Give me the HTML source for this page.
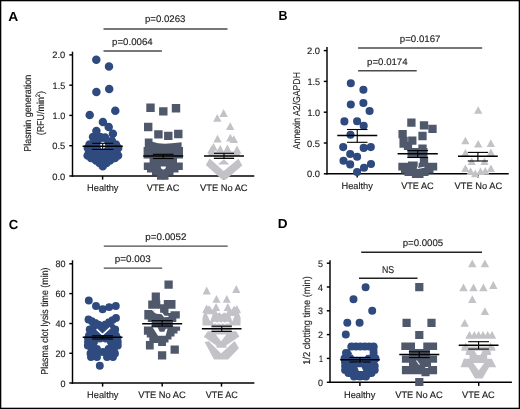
<!DOCTYPE html>
<html><head><meta charset="utf-8"><style>
html,body{margin:0;padding:0;background:#fff;width:520px;height:409px;overflow:hidden}
svg{display:block}
text{font-family:"Liberation Sans",sans-serif;text-rendering:geometricPrecision}
</style></head><body>
<svg style="will-change:transform" width="520" height="409" viewBox="0 0 520 409">
<rect width="520" height="409" fill="#fff"/>
<rect x="0.65" y="0.65" width="518.7" height="407.7" fill="none" stroke="#000" stroke-width="1.3"/>
<text x="8.3" y="21.4" font-size="13.2" text-anchor="start" font-weight="bold" fill="#000" textLength="10.0" lengthAdjust="spacingAndGlyphs">A</text>
<line x1="72.5" y1="51.7" x2="72.5" y2="176.725" stroke="#000" stroke-width="1.45"/>
<line x1="71.775" y1="176.0" x2="254.3" y2="176.0" stroke="#000" stroke-width="1.45"/>
<line x1="69.3" y1="54.9" x2="72.5" y2="54.9" stroke="#000" stroke-width="1.45"/>
<text x="65.2" y="58.449999999999996" font-size="9.4" text-anchor="end" font-weight="normal" fill="#1e1e1e" stroke="#1e1e1e" stroke-width="0.15" textLength="13.0" lengthAdjust="spacingAndGlyphs">2.0</text>
<line x1="69.3" y1="85.2" x2="72.5" y2="85.2" stroke="#000" stroke-width="1.45"/>
<text x="65.2" y="88.75" font-size="9.4" text-anchor="end" font-weight="normal" fill="#1e1e1e" stroke="#1e1e1e" stroke-width="0.15" textLength="12.6" lengthAdjust="spacingAndGlyphs">1.5</text>
<line x1="69.3" y1="115.4" x2="72.5" y2="115.4" stroke="#000" stroke-width="1.45"/>
<text x="65.2" y="118.95" font-size="9.4" text-anchor="end" font-weight="normal" fill="#1e1e1e" stroke="#1e1e1e" stroke-width="0.15" textLength="12.6" lengthAdjust="spacingAndGlyphs">1.0</text>
<line x1="69.3" y1="145.7" x2="72.5" y2="145.7" stroke="#000" stroke-width="1.45"/>
<text x="65.2" y="149.25" font-size="9.4" text-anchor="end" font-weight="normal" fill="#1e1e1e" stroke="#1e1e1e" stroke-width="0.15" textLength="13.0" lengthAdjust="spacingAndGlyphs">0.5</text>
<line x1="69.3" y1="176.0" x2="72.5" y2="176.0" stroke="#000" stroke-width="1.45"/>
<text x="65.2" y="179.55" font-size="9.4" text-anchor="end" font-weight="normal" fill="#1e1e1e" stroke="#1e1e1e" stroke-width="0.15" textLength="13.0" lengthAdjust="spacingAndGlyphs">0.0</text>
<line x1="102.6" y1="176.0" x2="102.6" y2="179.6" stroke="#000" stroke-width="1.45"/>
<line x1="163.0" y1="176.0" x2="163.0" y2="179.6" stroke="#000" stroke-width="1.45"/>
<line x1="223.8" y1="176.0" x2="223.8" y2="179.6" stroke="#000" stroke-width="1.45"/>
<line x1="103.5" y1="28.9" x2="227.5" y2="28.9" stroke="#4a4a4a" stroke-width="1.45"/>
<line x1="103.5" y1="50.9" x2="161.9" y2="50.9" stroke="#4a4a4a" stroke-width="1.45"/>
<text x="145.0" y="22.3" font-size="9.5" text-anchor="start" font-weight="normal" fill="#1e1e1e" stroke="#1e1e1e" stroke-width="0.15" textLength="40.4" lengthAdjust="spacingAndGlyphs">p=0.0263</text>
<text x="112.1" y="44.7" font-size="9.5" text-anchor="start" font-weight="normal" fill="#1e1e1e" stroke="#1e1e1e" stroke-width="0.15" textLength="40.6" lengthAdjust="spacingAndGlyphs">p=0.0064</text>
<text x="31.4" y="113.3" font-size="10.0" text-anchor="middle" font-weight="normal" fill="#1e1e1e" stroke="#1e1e1e" stroke-width="0.15" textLength="77" lengthAdjust="spacingAndGlyphs" transform="rotate(-90 31.4 113.3)">Plasmin generation</text>
<text x="44.0" y="113.1" font-size="10.0" text-anchor="middle" font-weight="normal" fill="#1e1e1e" stroke="#1e1e1e" stroke-width="0.15" textLength="44.4" lengthAdjust="spacingAndGlyphs" transform="rotate(-90 44.0 113.1)">(RFU/min<tspan font-size="6.5" dy="-3.6">2</tspan><tspan dy="3.6">)</tspan></text>
<path fill="#2e4a7e" d="M92.05,59.80a4.25,4.25 0 1,0 8.5,0a4.25,4.25 0 1,0 -8.5,0ZM104.75,66.40a4.25,4.25 0 1,0 8.5,0a4.25,4.25 0 1,0 -8.5,0ZM92.15,92.10a4.25,4.25 0 1,0 8.5,0a4.25,4.25 0 1,0 -8.5,0ZM104.95,88.90a4.25,4.25 0 1,0 8.5,0a4.25,4.25 0 1,0 -8.5,0ZM111.05,110.70a4.25,4.25 0 1,0 8.5,0a4.25,4.25 0 1,0 -8.5,0ZM85.45,115.00a4.25,4.25 0 1,0 8.5,0a4.25,4.25 0 1,0 -8.5,0ZM98.65,122.00a4.25,4.25 0 1,0 8.5,0a4.25,4.25 0 1,0 -8.5,0ZM104.45,127.00a4.25,4.25 0 1,0 8.5,0a4.25,4.25 0 1,0 -8.5,0ZM92.15,131.10a4.25,4.25 0 1,0 8.5,0a4.25,4.25 0 1,0 -8.5,0ZM108.65,133.70a4.25,4.25 0 1,0 8.5,0a4.25,4.25 0 1,0 -8.5,0ZM88.75,137.10a4.25,4.25 0 1,0 8.5,0a4.25,4.25 0 1,0 -8.5,0ZM96.05,137.10a4.25,4.25 0 1,0 8.5,0a4.25,4.25 0 1,0 -8.5,0ZM100.85,137.50a4.25,4.25 0 1,0 8.5,0a4.25,4.25 0 1,0 -8.5,0ZM107.75,141.00a4.25,4.25 0 1,0 8.5,0a4.25,4.25 0 1,0 -8.5,0ZM91.75,141.50a4.25,4.25 0 1,0 8.5,0a4.25,4.25 0 1,0 -8.5,0ZM103.75,141.50a4.25,4.25 0 1,0 8.5,0a4.25,4.25 0 1,0 -8.5,0ZM85.25,144.50a4.25,4.25 0 1,0 8.5,0a4.25,4.25 0 1,0 -8.5,0ZM91.88,144.50a4.25,4.25 0 1,0 8.5,0a4.25,4.25 0 1,0 -8.5,0ZM98.50,144.50a4.25,4.25 0 1,0 8.5,0a4.25,4.25 0 1,0 -8.5,0ZM105.12,144.50a4.25,4.25 0 1,0 8.5,0a4.25,4.25 0 1,0 -8.5,0ZM111.75,144.50a4.25,4.25 0 1,0 8.5,0a4.25,4.25 0 1,0 -8.5,0ZM83.55,148.00a4.25,4.25 0 1,0 8.5,0a4.25,4.25 0 1,0 -8.5,0ZM89.63,148.00a4.25,4.25 0 1,0 8.5,0a4.25,4.25 0 1,0 -8.5,0ZM95.71,148.00a4.25,4.25 0 1,0 8.5,0a4.25,4.25 0 1,0 -8.5,0ZM101.79,148.00a4.25,4.25 0 1,0 8.5,0a4.25,4.25 0 1,0 -8.5,0ZM107.87,148.00a4.25,4.25 0 1,0 8.5,0a4.25,4.25 0 1,0 -8.5,0ZM113.95,148.00a4.25,4.25 0 1,0 8.5,0a4.25,4.25 0 1,0 -8.5,0ZM84.75,152.00a4.25,4.25 0 1,0 8.5,0a4.25,4.25 0 1,0 -8.5,0ZM90.25,152.00a4.25,4.25 0 1,0 8.5,0a4.25,4.25 0 1,0 -8.5,0ZM95.75,152.00a4.25,4.25 0 1,0 8.5,0a4.25,4.25 0 1,0 -8.5,0ZM101.25,152.00a4.25,4.25 0 1,0 8.5,0a4.25,4.25 0 1,0 -8.5,0ZM106.75,152.00a4.25,4.25 0 1,0 8.5,0a4.25,4.25 0 1,0 -8.5,0ZM112.25,152.00a4.25,4.25 0 1,0 8.5,0a4.25,4.25 0 1,0 -8.5,0ZM83.35,155.50a4.25,4.25 0 1,0 8.5,0a4.25,4.25 0 1,0 -8.5,0ZM89.45,155.50a4.25,4.25 0 1,0 8.5,0a4.25,4.25 0 1,0 -8.5,0ZM95.55,155.50a4.25,4.25 0 1,0 8.5,0a4.25,4.25 0 1,0 -8.5,0ZM101.65,155.50a4.25,4.25 0 1,0 8.5,0a4.25,4.25 0 1,0 -8.5,0ZM107.75,155.50a4.25,4.25 0 1,0 8.5,0a4.25,4.25 0 1,0 -8.5,0ZM113.85,155.50a4.25,4.25 0 1,0 8.5,0a4.25,4.25 0 1,0 -8.5,0ZM86.75,158.00a4.25,4.25 0 1,0 8.5,0a4.25,4.25 0 1,0 -8.5,0ZM92.75,158.00a4.25,4.25 0 1,0 8.5,0a4.25,4.25 0 1,0 -8.5,0ZM98.75,158.00a4.25,4.25 0 1,0 8.5,0a4.25,4.25 0 1,0 -8.5,0ZM104.75,158.00a4.25,4.25 0 1,0 8.5,0a4.25,4.25 0 1,0 -8.5,0ZM110.75,158.00a4.25,4.25 0 1,0 8.5,0a4.25,4.25 0 1,0 -8.5,0ZM91.75,160.50a4.25,4.25 0 1,0 8.5,0a4.25,4.25 0 1,0 -8.5,0ZM98.75,160.50a4.25,4.25 0 1,0 8.5,0a4.25,4.25 0 1,0 -8.5,0ZM105.75,160.50a4.25,4.25 0 1,0 8.5,0a4.25,4.25 0 1,0 -8.5,0ZM95.25,163.00a4.25,4.25 0 1,0 8.5,0a4.25,4.25 0 1,0 -8.5,0ZM102.25,163.00a4.25,4.25 0 1,0 8.5,0a4.25,4.25 0 1,0 -8.5,0ZM98.55,166.30a4.25,4.25 0 1,0 8.5,0a4.25,4.25 0 1,0 -8.5,0Z"/>
<ellipse cx="102.7" cy="145.3" rx="2.4" ry="3.6" fill="#fff"/>
<path fill="#50586b" d="M146.30,103.60h8.4v8.4h-8.4ZM159.10,107.20h8.4v8.4h-8.4ZM171.80,104.10h8.4v8.4h-8.4ZM144.00,122.80h8.4v8.4h-8.4ZM154.20,130.20h8.4v8.4h-8.4ZM164.10,131.70h8.4v8.4h-8.4ZM174.10,129.80h8.4v8.4h-8.4ZM144.80,138.50L152.50,138.50L152.50,141.80L158.00,143.20L165.00,143.80L172.00,143.20L181.60,142.30L181.60,147.00L183.00,147.00L183.00,158.50L177.00,158.50L177.00,162.50L182.80,162.50L182.80,170.00L178.50,170.00L178.50,172.50L173.50,172.50L173.50,175.00L168.50,175.00L168.50,179.80L157.00,179.80L157.00,175.00L152.00,175.00L152.00,172.50L147.00,172.50L147.00,170.00L143.80,170.00L143.80,162.50L149.60,162.50L149.60,158.50L143.60,158.50L143.60,147.00L144.80,147.00Z"/>
<path fill="#fff" d="M160.7,166.4L166,166.4Q165.6,169.5 163.3,169.4Q161,169.5 160.7,166.4Z"/>
<path fill="#c3c2c7" d="M223.60,109.10L227.80,116.90H219.40ZM217.30,113.90L221.50,121.70H213.10ZM230.20,122.30L234.40,130.10H226.00ZM217.50,134.80L221.70,142.60H213.30ZM230.30,133.80L234.50,141.60H226.10ZM233.80,135.30L238.00,143.10H229.60ZM213.50,143.00L217.70,150.80H209.30ZM220.20,144.90L224.40,152.70H216.00ZM227.40,144.40L231.60,152.20H223.20ZM237.00,145.40L241.20,153.20H232.80ZM211.40,145.80L215.60,153.60H207.20ZM237.30,146.00L241.50,153.80H233.10ZM208.50,151.50H239.80V156.00H208.50ZM213.80,155.00H234.20V158.40H213.80ZM209.60,158.40L223.60,170.90L238.50,158.80L242.30,165.60L226.00,179.50L222.00,179.50L205.80,165.10ZM224.00,159.30L229.30,164.60L217.80,164.60Z"/>
<line x1="82.6" y1="146.2" x2="122.80000000000001" y2="146.2" stroke="#000" stroke-width="1.5"/>
<line x1="92.10000000000001" y1="143.3" x2="113.3" y2="143.3" stroke="#000" stroke-width="1.1"/>
<line x1="92.10000000000001" y1="149.4" x2="113.3" y2="149.4" stroke="#000" stroke-width="1.1"/>
<line x1="102.7" y1="143.3" x2="102.7" y2="149.4" stroke="#000" stroke-width="1.1"/>
<line x1="143.2" y1="155.9" x2="183.2" y2="155.9" stroke="#000" stroke-width="1.5"/>
<line x1="152.89999999999998" y1="154.3" x2="173.5" y2="154.3" stroke="#000" stroke-width="1.1"/>
<line x1="152.89999999999998" y1="158.5" x2="173.5" y2="158.5" stroke="#000" stroke-width="1.1"/>
<line x1="163.2" y1="154.3" x2="163.2" y2="158.5" stroke="#000" stroke-width="1.1"/>
<line x1="204.0" y1="156.0" x2="244.0" y2="156.0" stroke="#000" stroke-width="1.5"/>
<line x1="213.9" y1="153.3" x2="234.1" y2="153.3" stroke="#000" stroke-width="1.1"/>
<line x1="213.9" y1="158.4" x2="234.1" y2="158.4" stroke="#000" stroke-width="1.1"/>
<line x1="224.0" y1="153.3" x2="224.0" y2="158.4" stroke="#000" stroke-width="1.1"/>
<text x="87.1" y="191.2" font-size="9.3" text-anchor="start" font-weight="normal" fill="#1e1e1e" stroke="#1e1e1e" stroke-width="0.15" textLength="31.4" lengthAdjust="spacingAndGlyphs">Healthy</text>
<text x="146.8" y="191.2" font-size="9.3" text-anchor="start" font-weight="normal" fill="#1e1e1e" stroke="#1e1e1e" stroke-width="0.15" textLength="32.5" lengthAdjust="spacingAndGlyphs">VTE AC</text>
<text x="200.0" y="191.2" font-size="9.3" text-anchor="start" font-weight="normal" fill="#1e1e1e" stroke="#1e1e1e" stroke-width="0.15" textLength="47.6" lengthAdjust="spacingAndGlyphs">VTE No AC</text>
<text x="278.5" y="20.2" font-size="13.2" text-anchor="start" font-weight="bold" fill="#000" textLength="9.0" lengthAdjust="spacingAndGlyphs">B</text>
<line x1="327.0" y1="47.0" x2="327.0" y2="174.525" stroke="#000" stroke-width="1.45"/>
<line x1="326.275" y1="173.8" x2="508.7" y2="173.8" stroke="#000" stroke-width="1.45"/>
<line x1="323.8" y1="50.6" x2="327.0" y2="50.6" stroke="#000" stroke-width="1.45"/>
<text x="320.0" y="54.15" font-size="9.4" text-anchor="end" font-weight="normal" fill="#1e1e1e" stroke="#1e1e1e" stroke-width="0.15" textLength="13.0" lengthAdjust="spacingAndGlyphs">2.0</text>
<line x1="323.8" y1="81.4" x2="327.0" y2="81.4" stroke="#000" stroke-width="1.45"/>
<text x="320.0" y="84.95" font-size="9.4" text-anchor="end" font-weight="normal" fill="#1e1e1e" stroke="#1e1e1e" stroke-width="0.15" textLength="12.6" lengthAdjust="spacingAndGlyphs">1.5</text>
<line x1="323.8" y1="112.2" x2="327.0" y2="112.2" stroke="#000" stroke-width="1.45"/>
<text x="320.0" y="115.75" font-size="9.4" text-anchor="end" font-weight="normal" fill="#1e1e1e" stroke="#1e1e1e" stroke-width="0.15" textLength="12.6" lengthAdjust="spacingAndGlyphs">1.0</text>
<line x1="323.8" y1="143.0" x2="327.0" y2="143.0" stroke="#000" stroke-width="1.45"/>
<text x="320.0" y="146.55" font-size="9.4" text-anchor="end" font-weight="normal" fill="#1e1e1e" stroke="#1e1e1e" stroke-width="0.15" textLength="13.0" lengthAdjust="spacingAndGlyphs">0.5</text>
<line x1="323.8" y1="173.8" x2="327.0" y2="173.8" stroke="#000" stroke-width="1.45"/>
<text x="320.0" y="177.35000000000002" font-size="9.4" text-anchor="end" font-weight="normal" fill="#1e1e1e" stroke="#1e1e1e" stroke-width="0.15" textLength="13.0" lengthAdjust="spacingAndGlyphs">0.0</text>
<line x1="357.2" y1="173.8" x2="357.2" y2="177.4" stroke="#000" stroke-width="1.45"/>
<line x1="417.6" y1="173.8" x2="417.6" y2="177.4" stroke="#000" stroke-width="1.45"/>
<line x1="478.1" y1="173.8" x2="478.1" y2="177.4" stroke="#000" stroke-width="1.45"/>
<line x1="358.1" y1="48.0" x2="482.2" y2="48.0" stroke="#4a4a4a" stroke-width="1.45"/>
<line x1="358.1" y1="70.8" x2="416.7" y2="70.8" stroke="#4a4a4a" stroke-width="1.45"/>
<text x="399.8" y="41.8" font-size="9.5" text-anchor="start" font-weight="normal" fill="#1e1e1e" stroke="#1e1e1e" stroke-width="0.15" textLength="40.6" lengthAdjust="spacingAndGlyphs">p=0.0167</text>
<text x="367.1" y="65.4" font-size="9.5" text-anchor="start" font-weight="normal" fill="#1e1e1e" stroke="#1e1e1e" stroke-width="0.15" textLength="40.5" lengthAdjust="spacingAndGlyphs">p=0.0174</text>
<text x="299.7" y="110.65" font-size="10.0" text-anchor="middle" font-weight="normal" fill="#1e1e1e" stroke="#1e1e1e" stroke-width="0.15" textLength="77.1" lengthAdjust="spacingAndGlyphs" transform="rotate(-90 299.7 110.65)">Annexin A2/GAPDH</text>
<path fill="#2e4a7e" d="M346.75,83.20a4.05,4.05 0 1,0 8.1,0a4.05,4.05 0 1,0 -8.1,0ZM359.35,89.80a4.05,4.05 0 1,0 8.1,0a4.05,4.05 0 1,0 -8.1,0ZM346.75,104.50a4.05,4.05 0 1,0 8.1,0a4.05,4.05 0 1,0 -8.1,0ZM359.35,103.00a4.05,4.05 0 1,0 8.1,0a4.05,4.05 0 1,0 -8.1,0ZM365.55,111.00a4.05,4.05 0 1,0 8.1,0a4.05,4.05 0 1,0 -8.1,0ZM340.35,121.40a4.05,4.05 0 1,0 8.1,0a4.05,4.05 0 1,0 -8.1,0ZM353.05,121.30a4.05,4.05 0 1,0 8.1,0a4.05,4.05 0 1,0 -8.1,0ZM359.65,125.70a4.05,4.05 0 1,0 8.1,0a4.05,4.05 0 1,0 -8.1,0ZM346.45,134.70a4.05,4.05 0 1,0 8.1,0a4.05,4.05 0 1,0 -8.1,0ZM339.15,147.10a4.05,4.05 0 1,0 8.1,0a4.05,4.05 0 1,0 -8.1,0ZM359.65,147.90a4.05,4.05 0 1,0 8.1,0a4.05,4.05 0 1,0 -8.1,0ZM366.75,147.10a4.05,4.05 0 1,0 8.1,0a4.05,4.05 0 1,0 -8.1,0ZM346.15,154.00a4.05,4.05 0 1,0 8.1,0a4.05,4.05 0 1,0 -8.1,0ZM353.05,156.70a4.05,4.05 0 1,0 8.1,0a4.05,4.05 0 1,0 -8.1,0ZM339.45,160.80a4.05,4.05 0 1,0 8.1,0a4.05,4.05 0 1,0 -8.1,0ZM346.15,164.40a4.05,4.05 0 1,0 8.1,0a4.05,4.05 0 1,0 -8.1,0ZM359.95,167.70a4.05,4.05 0 1,0 8.1,0a4.05,4.05 0 1,0 -8.1,0ZM366.95,164.00a4.05,4.05 0 1,0 8.1,0a4.05,4.05 0 1,0 -8.1,0ZM353.05,172.00a4.05,4.05 0 1,0 8.1,0a4.05,4.05 0 1,0 -8.1,0Z"/>
<path fill="#50586b" d="M407.25,118.45h8.3v8.3h-8.3ZM419.85,121.15h8.3v8.3h-8.3ZM428.35,124.75h8.3v8.3h-8.3ZM418.35,131.85h8.3v8.3h-8.3ZM398.45,130.05h8.3v8.3h-8.3ZM408.15,136.45h8.3v8.3h-8.3ZM399.45,136.85h8.3v8.3h-8.3ZM403.85,141.65h8.3v8.3h-8.3ZM418.35,144.55h8.3v8.3h-8.3ZM419.85,157.45h8.3v8.3h-8.3ZM399.45,139.35h8.3v8.3h-8.3ZM407.50,148.00H427.50V157.50H407.50ZM398.30,162.70L408.00,162.70L408.00,161.40L418.00,161.40L418.00,162.70L437.20,162.70L437.20,170.50L433.50,170.50L433.50,173.50L428.50,173.50L428.50,176.00L423.50,176.00L423.50,177.90L411.90,177.90L411.90,176.00L404.50,176.00L404.50,173.50L401.00,173.50L401.00,170.50L398.30,170.50Z"/>
<polyline points="418.2,157.8 418.2,165.5 417.2,168.6 424.5,167.2" fill="none" stroke="#fff" stroke-width="1.0"/>
<path fill="#c3c2c7" d="M478.20,106.20L482.35,113.80H474.05ZM465.40,136.70L469.55,144.30H461.25ZM478.20,139.90L482.35,147.50H474.05ZM490.80,139.30L494.95,146.90H486.65ZM465.40,148.90L469.55,156.50H461.25ZM490.90,148.50L495.05,156.10H486.75ZM471.70,157.50L475.85,165.10H467.55ZM484.50,157.50L488.65,165.10H480.35ZM465.40,164.40L469.55,172.00H461.25ZM490.90,164.40L495.05,172.00H486.75ZM470.60,167.30L474.75,174.90H466.45ZM475.30,169.60L479.45,177.20H471.15ZM480.50,167.30L484.65,174.90H476.35ZM485.30,167.00L489.45,174.60H481.15Z"/>
<line x1="337.25" y1="135.4" x2="377.25" y2="135.4" stroke="#000" stroke-width="1.5"/>
<line x1="347.0" y1="129.5" x2="367.5" y2="129.5" stroke="#000" stroke-width="1.1"/>
<line x1="347.0" y1="142.3" x2="367.5" y2="142.3" stroke="#000" stroke-width="1.1"/>
<line x1="357.25" y1="129.5" x2="357.25" y2="142.3" stroke="#000" stroke-width="1.1"/>
<line x1="397.59999999999997" y1="153.7" x2="437.8" y2="153.7" stroke="#000" stroke-width="1.5"/>
<line x1="407.3" y1="150.6" x2="428.09999999999997" y2="150.6" stroke="#000" stroke-width="1.1"/>
<line x1="407.3" y1="157.5" x2="428.09999999999997" y2="157.5" stroke="#000" stroke-width="1.1"/>
<line x1="417.7" y1="150.6" x2="417.7" y2="157.5" stroke="#000" stroke-width="1.1"/>
<line x1="458.0" y1="156.2" x2="497.79999999999995" y2="156.2" stroke="#000" stroke-width="1.5"/>
<line x1="467.75" y1="152.4" x2="488.04999999999995" y2="152.4" stroke="#000" stroke-width="1.1"/>
<line x1="467.75" y1="161.0" x2="488.04999999999995" y2="161.0" stroke="#000" stroke-width="1.1"/>
<line x1="477.9" y1="152.4" x2="477.9" y2="161.0" stroke="#000" stroke-width="1.1"/>
<text x="341.5" y="188.8" font-size="9.3" text-anchor="start" font-weight="normal" fill="#1e1e1e" stroke="#1e1e1e" stroke-width="0.15" textLength="31.4" lengthAdjust="spacingAndGlyphs">Healthy</text>
<text x="401.2" y="188.8" font-size="9.3" text-anchor="start" font-weight="normal" fill="#1e1e1e" stroke="#1e1e1e" stroke-width="0.15" textLength="32.5" lengthAdjust="spacingAndGlyphs">VTE AC</text>
<text x="454.6" y="188.8" font-size="9.3" text-anchor="start" font-weight="normal" fill="#1e1e1e" stroke="#1e1e1e" stroke-width="0.15" textLength="47.6" lengthAdjust="spacingAndGlyphs">VTE No AC</text>
<text x="8.7" y="229.2" font-size="13.2" text-anchor="start" font-weight="bold" fill="#000" textLength="9.5" lengthAdjust="spacingAndGlyphs">C</text>
<line x1="72.5" y1="260.3" x2="72.5" y2="383.725" stroke="#000" stroke-width="1.45"/>
<line x1="71.775" y1="383.0" x2="254.4" y2="383.0" stroke="#000" stroke-width="1.45"/>
<line x1="69.3" y1="263.8" x2="72.5" y2="263.8" stroke="#000" stroke-width="1.45"/>
<text x="65.6" y="267.35" font-size="9.4" text-anchor="end" font-weight="normal" fill="#1e1e1e" stroke="#1e1e1e" stroke-width="0.15" textLength="10.0" lengthAdjust="spacingAndGlyphs">80</text>
<line x1="69.3" y1="293.6" x2="72.5" y2="293.6" stroke="#000" stroke-width="1.45"/>
<text x="65.6" y="297.15000000000003" font-size="9.4" text-anchor="end" font-weight="normal" fill="#1e1e1e" stroke="#1e1e1e" stroke-width="0.15" textLength="10.0" lengthAdjust="spacingAndGlyphs">60</text>
<line x1="69.3" y1="323.5" x2="72.5" y2="323.5" stroke="#000" stroke-width="1.45"/>
<text x="65.6" y="327.05" font-size="9.4" text-anchor="end" font-weight="normal" fill="#1e1e1e" stroke="#1e1e1e" stroke-width="0.15" textLength="10.0" lengthAdjust="spacingAndGlyphs">40</text>
<line x1="69.3" y1="353.3" x2="72.5" y2="353.3" stroke="#000" stroke-width="1.45"/>
<text x="65.6" y="356.85" font-size="9.4" text-anchor="end" font-weight="normal" fill="#1e1e1e" stroke="#1e1e1e" stroke-width="0.15" textLength="10.0" lengthAdjust="spacingAndGlyphs">20</text>
<line x1="69.3" y1="383.0" x2="72.5" y2="383.0" stroke="#000" stroke-width="1.45"/>
<text x="65.6" y="386.55" font-size="9.4" text-anchor="end" font-weight="normal" fill="#1e1e1e" stroke="#1e1e1e" stroke-width="0.15" textLength="5.0" lengthAdjust="spacingAndGlyphs">0</text>
<line x1="102.6" y1="383.0" x2="102.6" y2="386.6" stroke="#000" stroke-width="1.45"/>
<line x1="162.2" y1="383.0" x2="162.2" y2="386.6" stroke="#000" stroke-width="1.45"/>
<line x1="221.5" y1="383.0" x2="221.5" y2="386.6" stroke="#000" stroke-width="1.45"/>
<line x1="103.8" y1="246.1" x2="227.7" y2="246.1" stroke="#4a4a4a" stroke-width="1.45"/>
<line x1="103.8" y1="268.1" x2="162.2" y2="268.1" stroke="#4a4a4a" stroke-width="1.45"/>
<text x="145.3" y="239.6" font-size="9.5" text-anchor="start" font-weight="normal" fill="#1e1e1e" stroke="#1e1e1e" stroke-width="0.15" textLength="41.2" lengthAdjust="spacingAndGlyphs">p=0.0052</text>
<text x="114.7" y="261.8" font-size="9.5" text-anchor="start" font-weight="normal" fill="#1e1e1e" stroke="#1e1e1e" stroke-width="0.15" textLength="36.0" lengthAdjust="spacingAndGlyphs">p=0.003</text>
<text x="47.9" y="321.1" font-size="10.0" text-anchor="middle" font-weight="normal" fill="#1e1e1e" stroke="#1e1e1e" stroke-width="0.15" textLength="107.2" lengthAdjust="spacingAndGlyphs" transform="rotate(-90 47.9 321.1)">Plasma clot lysis time (min)</text>
<path fill="#2e4a7e" d="M84.85,300.50a3.95,3.95 0 1,0 7.9,0a3.95,3.95 0 1,0 -7.9,0ZM92.05,306.00a3.95,3.95 0 1,0 7.9,0a3.95,3.95 0 1,0 -7.9,0ZM98.65,309.30a3.95,3.95 0 1,0 7.9,0a3.95,3.95 0 1,0 -7.9,0ZM105.25,307.10a3.95,3.95 0 1,0 7.9,0a3.95,3.95 0 1,0 -7.9,0ZM111.85,306.00a3.95,3.95 0 1,0 7.9,0a3.95,3.95 0 1,0 -7.9,0ZM95.85,365.80a3.95,3.95 0 1,0 7.9,0a3.95,3.95 0 1,0 -7.9,0ZM84.55,319.50a3.95,3.95 0 1,0 7.9,0a3.95,3.95 0 1,0 -7.9,0ZM87.95,321.25a3.95,3.95 0 1,0 7.9,0a3.95,3.95 0 1,0 -7.9,0ZM91.25,323.00a3.95,3.95 0 1,0 7.9,0a3.95,3.95 0 1,0 -7.9,0ZM94.65,324.75a3.95,3.95 0 1,0 7.9,0a3.95,3.95 0 1,0 -7.9,0ZM98.05,326.50a3.95,3.95 0 1,0 7.9,0a3.95,3.95 0 1,0 -7.9,0ZM101.55,324.40a3.95,3.95 0 1,0 7.9,0a3.95,3.95 0 1,0 -7.9,0ZM105.05,322.25a3.95,3.95 0 1,0 7.9,0a3.95,3.95 0 1,0 -7.9,0ZM108.55,320.10a3.95,3.95 0 1,0 7.9,0a3.95,3.95 0 1,0 -7.9,0ZM112.05,318.00a3.95,3.95 0 1,0 7.9,0a3.95,3.95 0 1,0 -7.9,0ZM85.75,329.50a3.95,3.95 0 1,0 7.9,0a3.95,3.95 0 1,0 -7.9,0ZM88.55,331.50a3.95,3.95 0 1,0 7.9,0a3.95,3.95 0 1,0 -7.9,0ZM92.05,333.50a3.95,3.95 0 1,0 7.9,0a3.95,3.95 0 1,0 -7.9,0ZM111.25,329.40a3.95,3.95 0 1,0 7.9,0a3.95,3.95 0 1,0 -7.9,0ZM108.05,331.40a3.95,3.95 0 1,0 7.9,0a3.95,3.95 0 1,0 -7.9,0ZM104.55,333.20a3.95,3.95 0 1,0 7.9,0a3.95,3.95 0 1,0 -7.9,0ZM98.35,331.50a3.95,3.95 0 1,0 7.9,0a3.95,3.95 0 1,0 -7.9,0ZM89.55,327.50a3.95,3.95 0 1,0 7.9,0a3.95,3.95 0 1,0 -7.9,0ZM92.05,329.00a3.95,3.95 0 1,0 7.9,0a3.95,3.95 0 1,0 -7.9,0ZM107.55,327.50a3.95,3.95 0 1,0 7.9,0a3.95,3.95 0 1,0 -7.9,0ZM104.75,329.00a3.95,3.95 0 1,0 7.9,0a3.95,3.95 0 1,0 -7.9,0ZM85.05,335.50a3.95,3.95 0 1,0 7.9,0a3.95,3.95 0 1,0 -7.9,0ZM90.45,335.50a3.95,3.95 0 1,0 7.9,0a3.95,3.95 0 1,0 -7.9,0ZM95.85,335.50a3.95,3.95 0 1,0 7.9,0a3.95,3.95 0 1,0 -7.9,0ZM101.25,335.50a3.95,3.95 0 1,0 7.9,0a3.95,3.95 0 1,0 -7.9,0ZM106.65,335.50a3.95,3.95 0 1,0 7.9,0a3.95,3.95 0 1,0 -7.9,0ZM112.05,335.50a3.95,3.95 0 1,0 7.9,0a3.95,3.95 0 1,0 -7.9,0ZM84.05,338.50a3.95,3.95 0 1,0 7.9,0a3.95,3.95 0 1,0 -7.9,0ZM89.95,338.50a3.95,3.95 0 1,0 7.9,0a3.95,3.95 0 1,0 -7.9,0ZM95.85,338.50a3.95,3.95 0 1,0 7.9,0a3.95,3.95 0 1,0 -7.9,0ZM101.75,338.50a3.95,3.95 0 1,0 7.9,0a3.95,3.95 0 1,0 -7.9,0ZM107.65,338.50a3.95,3.95 0 1,0 7.9,0a3.95,3.95 0 1,0 -7.9,0ZM113.55,338.50a3.95,3.95 0 1,0 7.9,0a3.95,3.95 0 1,0 -7.9,0ZM84.05,342.00a3.95,3.95 0 1,0 7.9,0a3.95,3.95 0 1,0 -7.9,0ZM90.05,342.00a3.95,3.95 0 1,0 7.9,0a3.95,3.95 0 1,0 -7.9,0ZM107.05,342.00a3.95,3.95 0 1,0 7.9,0a3.95,3.95 0 1,0 -7.9,0ZM113.85,342.00a3.95,3.95 0 1,0 7.9,0a3.95,3.95 0 1,0 -7.9,0ZM83.85,345.50a3.95,3.95 0 1,0 7.9,0a3.95,3.95 0 1,0 -7.9,0ZM89.55,345.50a3.95,3.95 0 1,0 7.9,0a3.95,3.95 0 1,0 -7.9,0ZM107.55,345.50a3.95,3.95 0 1,0 7.9,0a3.95,3.95 0 1,0 -7.9,0ZM113.85,345.50a3.95,3.95 0 1,0 7.9,0a3.95,3.95 0 1,0 -7.9,0ZM87.55,349.00a3.95,3.95 0 1,0 7.9,0a3.95,3.95 0 1,0 -7.9,0ZM93.05,349.00a3.95,3.95 0 1,0 7.9,0a3.95,3.95 0 1,0 -7.9,0ZM104.55,349.00a3.95,3.95 0 1,0 7.9,0a3.95,3.95 0 1,0 -7.9,0ZM110.05,349.00a3.95,3.95 0 1,0 7.9,0a3.95,3.95 0 1,0 -7.9,0ZM99.05,352.00a3.95,3.95 0 1,0 7.9,0a3.95,3.95 0 1,0 -7.9,0ZM86.55,353.50a3.95,3.95 0 1,0 7.9,0a3.95,3.95 0 1,0 -7.9,0ZM92.55,353.50a3.95,3.95 0 1,0 7.9,0a3.95,3.95 0 1,0 -7.9,0ZM105.55,353.50a3.95,3.95 0 1,0 7.9,0a3.95,3.95 0 1,0 -7.9,0ZM111.05,353.50a3.95,3.95 0 1,0 7.9,0a3.95,3.95 0 1,0 -7.9,0ZM87.05,357.00a3.95,3.95 0 1,0 7.9,0a3.95,3.95 0 1,0 -7.9,0ZM93.05,357.00a3.95,3.95 0 1,0 7.9,0a3.95,3.95 0 1,0 -7.9,0ZM103.05,357.00a3.95,3.95 0 1,0 7.9,0a3.95,3.95 0 1,0 -7.9,0ZM109.05,357.00a3.95,3.95 0 1,0 7.9,0a3.95,3.95 0 1,0 -7.9,0Z"/>
<polyline points="96.6,329.2 102.5,334.6 110.2,327.6" fill="none" stroke="#fff" stroke-width="1.7" stroke-linejoin="round"/>
<path fill="#fff" d="M99.6,342.8Q102.8,344.2 106.2,342.8L104.5,347.4Q102.8,348.2 101.2,347.4Z"/>
<path fill="#50586b" d="M164.45,280.55h8.3v8.3h-8.3ZM170.55,345.45h8.3v8.3h-8.3ZM157.95,351.25h8.3v8.3h-8.3ZM151.70,292.60H159.90V300.60H151.70ZM148.20,300.40H160.30V308.80H148.20ZM163.80,300.00H175.50V308.80H163.80ZM160.10,304.30H168.50V313.40H160.10ZM144.30,309.90H154.50V319.40H144.30ZM170.50,311.20H179.80V318.50H170.50ZM147.80,316.80H176.30V322.00H147.80ZM154.30,313.00H170.70V318.00H154.30ZM151.70,320.50H172.90V326.50H151.70ZM143.90,326.40L180.10,326.40L180.10,330.80L177.50,330.80L177.50,333.50L174.50,333.50L174.50,336.50L171.50,336.50L171.50,339.50L168.50,339.50L168.50,342.50L166.00,342.50L166.00,345.90L158.10,345.90L158.10,343.00L153.70,343.00L153.70,349.40L145.90,349.40L145.90,341.00L149.30,341.00L149.30,337.60L146.80,337.60L146.80,334.70L143.90,334.70Z"/>
<path fill="#fff" d="M152.7,327.6L157.6,327.6L159.8,331.8L164.2,331.8L165.8,328.8L167.6,328.8L165.6,335.7L158,335.7Z"/>
<polyline points="152.5,309.8 156.5,313.2 162,313.5 164.3,316.5 168.5,316.3" fill="none" stroke="#fff" stroke-width="1.3"/>
<path fill="#c3c2c7" d="M206.70,286.60L210.80,294.40H202.60ZM236.30,285.10L240.40,292.90H232.20ZM216.50,295.00L220.60,302.80H212.40ZM226.80,295.00L230.90,302.80H222.70ZM202.50,312.60L206.60,304.50L207.90,306.80L209.30,305.40L212.40,310.00L216.10,303.10L220.20,311.00L223.70,311.00L227.80,303.10L231.50,310.00L234.20,305.80L235.50,307.50L236.90,305.00L240.80,312.60L240.50,325.50L202.50,325.50ZM211.40,324.00H231.70V331.40H211.40ZM207.90,331.20L236.10,331.20L239.40,336.40L226.40,345.20L226.40,347.80L216.70,347.80L216.30,345.60L203.80,336.80ZM204.60,342.10L208.80,341.20L221.10,353.50L234.30,341.20L235.40,342.10L238.90,348.20L228.00,359.60L214.00,359.60Z"/>
<path fill="#fff" d="M215.8,334.6L226.4,334.6L221.1,341.2Z"/>
<path fill="#fff" d="M216.5,311L227.5,311L226.5,313.6L224,312.6L221.8,314.4L219.4,312.6L217.3,313.6Z"/>
<path fill="#fff" d="M206.8,314.2L212.7,314.2L210.3,321.4Z"/>
<path fill="#fff" d="M230.3,316L234.4,316L232.4,321.4Z"/>
<polyline points="213,323.2 215,322.4 217,323.6 219,322.4 221,323.6 223,322.4 225,323.6 227,322.4 229.4,323.2" fill="none" stroke="#fff" stroke-width="1.6"/>
<path fill="#fff" d="M202,313L204.2,313.2L202,318Z"/>
<path fill="#fff" d="M241,313L238.8,313.2L241,318Z"/>
<line x1="82.69999999999999" y1="337.2" x2="122.5" y2="337.2" stroke="#000" stroke-width="1.5"/>
<line x1="92.14999999999999" y1="335.8" x2="113.05" y2="335.8" stroke="#000" stroke-width="1.1"/>
<line x1="92.14999999999999" y1="339.0" x2="113.05" y2="339.0" stroke="#000" stroke-width="1.1"/>
<line x1="102.6" y1="335.8" x2="102.6" y2="339.0" stroke="#000" stroke-width="1.1"/>
<line x1="142.15" y1="323.8" x2="182.15" y2="323.8" stroke="#000" stroke-width="1.5"/>
<line x1="151.55" y1="320.7" x2="172.75" y2="320.7" stroke="#000" stroke-width="1.1"/>
<line x1="151.55" y1="326.1" x2="172.75" y2="326.1" stroke="#000" stroke-width="1.1"/>
<line x1="162.15" y1="320.7" x2="162.15" y2="326.1" stroke="#000" stroke-width="1.1"/>
<line x1="201.89999999999998" y1="328.7" x2="241.5" y2="328.7" stroke="#000" stroke-width="1.5"/>
<line x1="211.54999999999998" y1="326.2" x2="231.85" y2="326.2" stroke="#000" stroke-width="1.1"/>
<line x1="211.54999999999998" y1="331.4" x2="231.85" y2="331.4" stroke="#000" stroke-width="1.1"/>
<line x1="221.7" y1="326.2" x2="221.7" y2="331.4" stroke="#000" stroke-width="1.1"/>
<text x="87.1" y="398.4" font-size="9.3" text-anchor="start" font-weight="normal" fill="#1e1e1e" stroke="#1e1e1e" stroke-width="0.15" textLength="31.4" lengthAdjust="spacingAndGlyphs">Healthy</text>
<text x="138.2" y="398.4" font-size="9.3" text-anchor="start" font-weight="normal" fill="#1e1e1e" stroke="#1e1e1e" stroke-width="0.15" textLength="47.6" lengthAdjust="spacingAndGlyphs">VTE No AC</text>
<text x="205.7" y="398.4" font-size="9.3" text-anchor="start" font-weight="normal" fill="#1e1e1e" stroke="#1e1e1e" stroke-width="0.15" textLength="32.0" lengthAdjust="spacingAndGlyphs">VTE AC</text>
<text x="277.8" y="228.3" font-size="13.2" text-anchor="start" font-weight="bold" fill="#000" textLength="9.8" lengthAdjust="spacingAndGlyphs">D</text>
<line x1="330.0" y1="260.3" x2="330.0" y2="383.02500000000003" stroke="#000" stroke-width="1.45"/>
<line x1="329.275" y1="382.3" x2="511.9" y2="382.3" stroke="#000" stroke-width="1.45"/>
<line x1="326.8" y1="263.2" x2="330.0" y2="263.2" stroke="#000" stroke-width="1.45"/>
<text x="323.0" y="266.75" font-size="9.4" text-anchor="end" font-weight="normal" fill="#1e1e1e" stroke="#1e1e1e" stroke-width="0.15" textLength="5.0" lengthAdjust="spacingAndGlyphs">5</text>
<line x1="326.8" y1="287.0" x2="330.0" y2="287.0" stroke="#000" stroke-width="1.45"/>
<text x="323.0" y="290.55" font-size="9.4" text-anchor="end" font-weight="normal" fill="#1e1e1e" stroke="#1e1e1e" stroke-width="0.15" textLength="5.2" lengthAdjust="spacingAndGlyphs">4</text>
<line x1="326.8" y1="310.8" x2="330.0" y2="310.8" stroke="#000" stroke-width="1.45"/>
<text x="323.0" y="314.35" font-size="9.4" text-anchor="end" font-weight="normal" fill="#1e1e1e" stroke="#1e1e1e" stroke-width="0.15" textLength="5.0" lengthAdjust="spacingAndGlyphs">3</text>
<line x1="326.8" y1="334.6" x2="330.0" y2="334.6" stroke="#000" stroke-width="1.45"/>
<text x="323.0" y="338.15000000000003" font-size="9.4" text-anchor="end" font-weight="normal" fill="#1e1e1e" stroke="#1e1e1e" stroke-width="0.15" textLength="5.0" lengthAdjust="spacingAndGlyphs">2</text>
<line x1="326.8" y1="358.4" x2="330.0" y2="358.4" stroke="#000" stroke-width="1.45"/>
<text x="323.0" y="361.95" font-size="9.4" text-anchor="end" font-weight="normal" fill="#1e1e1e" stroke="#1e1e1e" stroke-width="0.15" textLength="4.0" lengthAdjust="spacingAndGlyphs">1</text>
<line x1="326.8" y1="382.3" x2="330.0" y2="382.3" stroke="#000" stroke-width="1.45"/>
<text x="323.0" y="385.85" font-size="9.4" text-anchor="end" font-weight="normal" fill="#1e1e1e" stroke="#1e1e1e" stroke-width="0.15" textLength="5.0" lengthAdjust="spacingAndGlyphs">0</text>
<line x1="359.9" y1="382.3" x2="359.9" y2="385.90000000000003" stroke="#000" stroke-width="1.45"/>
<line x1="419.3" y1="382.3" x2="419.3" y2="385.90000000000003" stroke="#000" stroke-width="1.45"/>
<line x1="478.7" y1="382.3" x2="478.7" y2="385.90000000000003" stroke="#000" stroke-width="1.45"/>
<line x1="361.2" y1="252.2" x2="482.0" y2="252.2" stroke="#222" stroke-width="1.45"/>
<line x1="359.0" y1="278.3" x2="417.5" y2="278.3" stroke="#222" stroke-width="1.45"/>
<text x="402.7" y="246.3" font-size="9.5" text-anchor="start" font-weight="normal" fill="#1e1e1e" stroke="#1e1e1e" stroke-width="0.15" textLength="40.5" lengthAdjust="spacingAndGlyphs">p=0.0005</text>
<text x="382.0" y="272.6" font-size="9.9" text-anchor="start" font-weight="normal" fill="#1e1e1e" stroke="#1e1e1e" stroke-width="0.15" textLength="12.2" lengthAdjust="spacingAndGlyphs">NS</text>
<text x="310.2" y="320.5" font-size="10.0" text-anchor="middle" font-weight="normal" fill="#1e1e1e" stroke="#1e1e1e" stroke-width="0.15" textLength="88.5" lengthAdjust="spacingAndGlyphs" transform="rotate(-90 310.2 320.5)">1/2 clotting time (min)</text>
<path fill="#2e4a7e" d="M361.60,287.20a4.0,4.0 0 1,0 8.0,0a4.0,4.0 0 1,0 -8.0,0ZM349.50,299.20a4.0,4.0 0 1,0 8.0,0a4.0,4.0 0 1,0 -8.0,0ZM368.20,310.70a4.0,4.0 0 1,0 8.0,0a4.0,4.0 0 1,0 -8.0,0ZM343.30,322.70a4.0,4.0 0 1,0 8.0,0a4.0,4.0 0 1,0 -8.0,0ZM355.60,322.70a4.0,4.0 0 1,0 8.0,0a4.0,4.0 0 1,0 -8.0,0ZM341.80,334.60a4.0,4.0 0 1,0 8.0,0a4.0,4.0 0 1,0 -8.0,0ZM347.50,347.00a4.0,4.0 0 1,0 8.0,0a4.0,4.0 0 1,0 -8.0,0ZM351.90,347.00a4.0,4.0 0 1,0 8.0,0a4.0,4.0 0 1,0 -8.0,0ZM356.30,347.00a4.0,4.0 0 1,0 8.0,0a4.0,4.0 0 1,0 -8.0,0ZM360.70,347.00a4.0,4.0 0 1,0 8.0,0a4.0,4.0 0 1,0 -8.0,0ZM365.10,347.00a4.0,4.0 0 1,0 8.0,0a4.0,4.0 0 1,0 -8.0,0ZM369.50,347.00a4.0,4.0 0 1,0 8.0,0a4.0,4.0 0 1,0 -8.0,0ZM347.50,350.50a4.0,4.0 0 1,0 8.0,0a4.0,4.0 0 1,0 -8.0,0ZM369.50,350.50a4.0,4.0 0 1,0 8.0,0a4.0,4.0 0 1,0 -8.0,0ZM342.00,352.90a4.0,4.0 0 1,0 8.0,0a4.0,4.0 0 1,0 -8.0,0ZM369.60,352.90a4.0,4.0 0 1,0 8.0,0a4.0,4.0 0 1,0 -8.0,0ZM343.00,355.50a4.0,4.0 0 1,0 8.0,0a4.0,4.0 0 1,0 -8.0,0ZM369.60,355.50a4.0,4.0 0 1,0 8.0,0a4.0,4.0 0 1,0 -8.0,0ZM340.50,358.40a4.0,4.0 0 1,0 8.0,0a4.0,4.0 0 1,0 -8.0,0ZM345.67,358.40a4.0,4.0 0 1,0 8.0,0a4.0,4.0 0 1,0 -8.0,0ZM350.83,358.40a4.0,4.0 0 1,0 8.0,0a4.0,4.0 0 1,0 -8.0,0ZM356.00,358.40a4.0,4.0 0 1,0 8.0,0a4.0,4.0 0 1,0 -8.0,0ZM361.17,358.40a4.0,4.0 0 1,0 8.0,0a4.0,4.0 0 1,0 -8.0,0ZM366.33,358.40a4.0,4.0 0 1,0 8.0,0a4.0,4.0 0 1,0 -8.0,0ZM371.50,358.40a4.0,4.0 0 1,0 8.0,0a4.0,4.0 0 1,0 -8.0,0ZM341.00,362.00a4.0,4.0 0 1,0 8.0,0a4.0,4.0 0 1,0 -8.0,0ZM346.00,362.00a4.0,4.0 0 1,0 8.0,0a4.0,4.0 0 1,0 -8.0,0ZM365.00,362.00a4.0,4.0 0 1,0 8.0,0a4.0,4.0 0 1,0 -8.0,0ZM369.50,362.00a4.0,4.0 0 1,0 8.0,0a4.0,4.0 0 1,0 -8.0,0ZM341.10,366.00a4.0,4.0 0 1,0 8.0,0a4.0,4.0 0 1,0 -8.0,0ZM346.03,366.00a4.0,4.0 0 1,0 8.0,0a4.0,4.0 0 1,0 -8.0,0ZM350.97,366.00a4.0,4.0 0 1,0 8.0,0a4.0,4.0 0 1,0 -8.0,0ZM355.90,366.00a4.0,4.0 0 1,0 8.0,0a4.0,4.0 0 1,0 -8.0,0ZM360.83,366.00a4.0,4.0 0 1,0 8.0,0a4.0,4.0 0 1,0 -8.0,0ZM365.77,366.00a4.0,4.0 0 1,0 8.0,0a4.0,4.0 0 1,0 -8.0,0ZM370.70,366.00a4.0,4.0 0 1,0 8.0,0a4.0,4.0 0 1,0 -8.0,0ZM341.10,370.00a4.0,4.0 0 1,0 8.0,0a4.0,4.0 0 1,0 -8.0,0ZM346.03,370.00a4.0,4.0 0 1,0 8.0,0a4.0,4.0 0 1,0 -8.0,0ZM350.97,370.00a4.0,4.0 0 1,0 8.0,0a4.0,4.0 0 1,0 -8.0,0ZM355.90,370.00a4.0,4.0 0 1,0 8.0,0a4.0,4.0 0 1,0 -8.0,0ZM360.83,370.00a4.0,4.0 0 1,0 8.0,0a4.0,4.0 0 1,0 -8.0,0ZM365.77,370.00a4.0,4.0 0 1,0 8.0,0a4.0,4.0 0 1,0 -8.0,0ZM370.70,370.00a4.0,4.0 0 1,0 8.0,0a4.0,4.0 0 1,0 -8.0,0ZM344.50,373.00a4.0,4.0 0 1,0 8.0,0a4.0,4.0 0 1,0 -8.0,0ZM350.00,373.00a4.0,4.0 0 1,0 8.0,0a4.0,4.0 0 1,0 -8.0,0ZM356.00,373.00a4.0,4.0 0 1,0 8.0,0a4.0,4.0 0 1,0 -8.0,0ZM362.00,373.00a4.0,4.0 0 1,0 8.0,0a4.0,4.0 0 1,0 -8.0,0ZM367.50,373.00a4.0,4.0 0 1,0 8.0,0a4.0,4.0 0 1,0 -8.0,0ZM350.00,376.50a4.0,4.0 0 1,0 8.0,0a4.0,4.0 0 1,0 -8.0,0ZM356.00,376.50a4.0,4.0 0 1,0 8.0,0a4.0,4.0 0 1,0 -8.0,0ZM362.00,376.50a4.0,4.0 0 1,0 8.0,0a4.0,4.0 0 1,0 -8.0,0Z"/>
<path fill="#fff" d="M349.6,349.6L370.5,349.6L365,356.7L354,356.7Z"/>
<path fill="#2e4a7e" d="M347.50,346.60a4.0,4.0 0 1,0 8.0,0a4.0,4.0 0 1,0 -8.0,0ZM351.90,346.60a4.0,4.0 0 1,0 8.0,0a4.0,4.0 0 1,0 -8.0,0ZM356.30,346.60a4.0,4.0 0 1,0 8.0,0a4.0,4.0 0 1,0 -8.0,0ZM360.70,346.60a4.0,4.0 0 1,0 8.0,0a4.0,4.0 0 1,0 -8.0,0ZM365.10,346.60a4.0,4.0 0 1,0 8.0,0a4.0,4.0 0 1,0 -8.0,0ZM369.50,346.60a4.0,4.0 0 1,0 8.0,0a4.0,4.0 0 1,0 -8.0,0Z"/>
<path fill="#fff" d="M357.3,367.2L361.7,367.2L363.3,371L358.9,371Z"/>
<path fill="#50586b" d="M415.20,283.10h8.2v8.2h-8.2ZM402.50,318.70h8.2v8.2h-8.2ZM427.40,318.70h8.2v8.2h-8.2ZM415.20,330.90h8.2v8.2h-8.2ZM415.20,377.90h8.2v8.2h-8.2ZM401.30,342.40H415.00V350.10H401.30ZM423.30,342.40H437.10V350.10H423.30ZM415.00,349.00H423.30V356.00H415.00ZM409.00,350.00H430.00V357.60H409.00ZM401.90,355.60H437.10V362.80H401.90ZM409.00,362.60H431.00V366.20H409.00ZM401.90,366.00H437.10V374.30H401.90ZM421.50,374.20H429.60V376.30H421.50Z"/>
<polyline points="416.5,360.5 419.5,364.8" fill="none" stroke="#fff" stroke-width="1.1"/>
<polyline points="425.2,367.6 428.2,367.4" fill="none" stroke="#fff" stroke-width="1.0"/>
<path fill="#c3c2c7" d="M472.30,259.50L476.50,267.30H468.10ZM484.90,259.50L489.10,267.30H480.70ZM463.50,283.40L467.70,291.20H459.30ZM473.50,283.40L477.70,291.20H469.30ZM483.40,283.40L487.60,291.20H479.20ZM493.30,281.10L497.50,288.90H489.10ZM472.30,295.20L476.50,303.00H468.10ZM484.90,307.30L489.10,315.10H480.70ZM464.70,319.00L468.90,326.80H460.50ZM469.50,330.90L473.70,338.70H465.30ZM474.30,330.90L478.50,338.70H470.10ZM478.60,330.90L482.80,338.70H474.40ZM483.00,330.90L487.20,338.70H478.80ZM487.70,330.90L491.90,338.70H483.50ZM492.00,330.90L496.20,338.70H487.80ZM465.70,342.60L469.90,350.40H461.50ZM490.70,342.60L494.90,350.40H486.50ZM462.20,346.50L494.20,346.50L495.70,350.80L461.10,350.80ZM466.50,350.80L474.50,350.80L477.00,355.00L480.50,355.00L482.60,350.80L490.30,350.80L491.30,355.00L487.20,355.00L487.20,358.80L491.80,358.80L496.20,367.20L489.00,367.20L482.50,378.50L475.00,378.50L468.50,367.20L460.60,367.20L463.80,358.80L469.50,358.80L469.50,355.00L465.50,355.00Z"/>
<path fill="#fff" d="M473.3,363.1L484.2,363.1L478.7,370.4Z"/>
<line x1="340.2" y1="359.8" x2="379.8" y2="359.8" stroke="#000" stroke-width="1.5"/>
<line x1="349.55" y1="357.5" x2="370.45" y2="357.5" stroke="#000" stroke-width="1.1"/>
<line x1="349.55" y1="362.0" x2="370.45" y2="362.0" stroke="#000" stroke-width="1.1"/>
<line x1="360.0" y1="357.5" x2="360.0" y2="362.0" stroke="#000" stroke-width="1.1"/>
<line x1="399.3" y1="354.5" x2="439.3" y2="354.5" stroke="#000" stroke-width="1.5"/>
<line x1="408.85" y1="351.8" x2="429.75" y2="351.8" stroke="#000" stroke-width="1.1"/>
<line x1="408.85" y1="357.6" x2="429.75" y2="357.6" stroke="#000" stroke-width="1.1"/>
<line x1="419.3" y1="351.8" x2="419.3" y2="357.6" stroke="#000" stroke-width="1.1"/>
<line x1="458.70000000000005" y1="345.2" x2="498.5" y2="345.2" stroke="#000" stroke-width="1.5"/>
<line x1="468.25" y1="341.7" x2="488.95000000000005" y2="341.7" stroke="#000" stroke-width="1.1"/>
<line x1="468.25" y1="349.1" x2="488.95000000000005" y2="349.1" stroke="#000" stroke-width="1.1"/>
<line x1="478.6" y1="341.7" x2="478.6" y2="349.1" stroke="#000" stroke-width="1.1"/>
<text x="344.0" y="398.0" font-size="9.3" text-anchor="start" font-weight="normal" fill="#1e1e1e" stroke="#1e1e1e" stroke-width="0.15" textLength="31.4" lengthAdjust="spacingAndGlyphs">Healthy</text>
<text x="395.2" y="398.0" font-size="9.3" text-anchor="start" font-weight="normal" fill="#1e1e1e" stroke="#1e1e1e" stroke-width="0.15" textLength="47.6" lengthAdjust="spacingAndGlyphs">VTE No AC</text>
<text x="462.1" y="398.0" font-size="9.3" text-anchor="start" font-weight="normal" fill="#1e1e1e" stroke="#1e1e1e" stroke-width="0.15" textLength="32.5" lengthAdjust="spacingAndGlyphs">VTE AC</text>
</svg>
</body></html>
